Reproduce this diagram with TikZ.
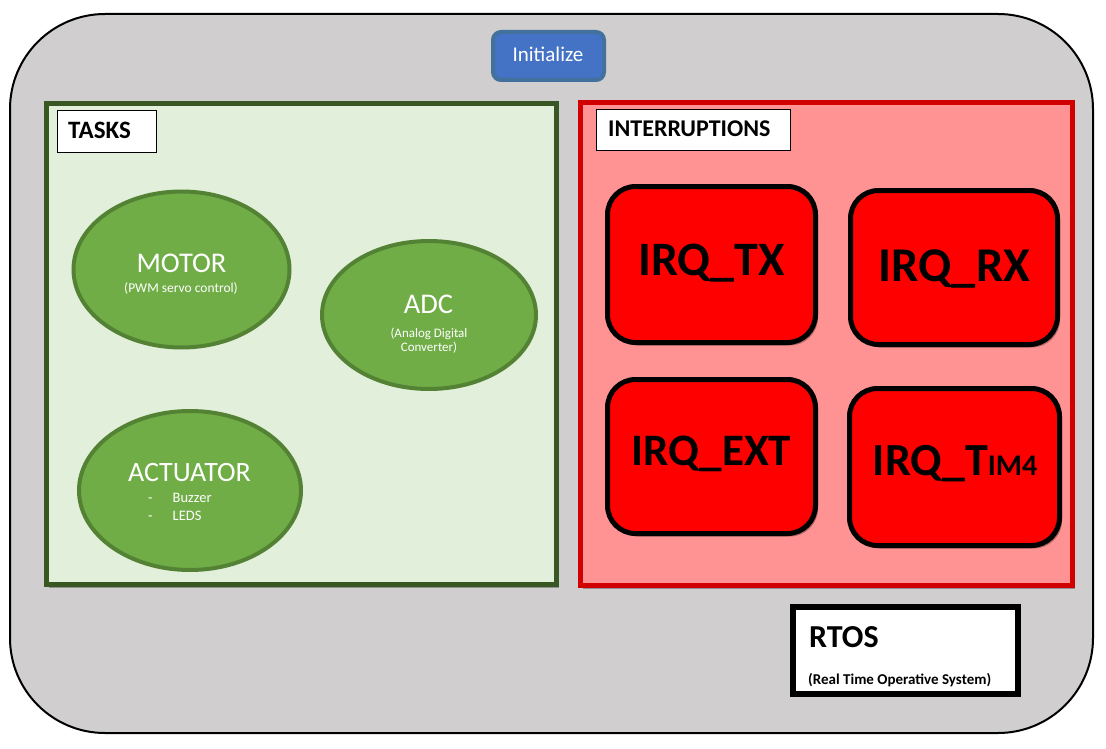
\documentclass[tikz,border=0pt]{standalone}
\usepackage{fontspec}
\setmainfont{Carlito}
\usetikzlibrary{shapes.geometric,shadows}

\definecolor{osgray}{HTML}{D0CECE}
\definecolor{initfill}{HTML}{4472C4}
\definecolor{initline}{HTML}{41719C}
\definecolor{taskfill}{HTML}{E2EFDA}
\definecolor{taskline}{HTML}{385723}
\definecolor{ellfill}{HTML}{70AD47}
\definecolor{ellline}{HTML}{548235}
\definecolor{irqpanel}{HTML}{FF9393}
\definecolor{irqline}{HTML}{D00000}
\definecolor{irqfill}{HTML}{FF0000}

\newcommand{\fsz}[1]{\fontsize{#1}{#1}\selectfont}

\tikzset{
  softshadow/.style={drop shadow={shadow xshift=2.5pt, shadow yshift=-3pt, opacity=0.3, fill=black}},
  panel/.style={rectangle, line width=5pt, inner sep=0pt, softshadow},
  labelbox/.style={rectangle, draw=black, line width=1pt, fill=white, inner sep=0pt},
  task/.style={ellipse, draw=ellline, fill=ellfill, line width=4pt, inner sep=0pt},
  irq/.style={rectangle, rounded corners=28pt, draw=black, fill=irqfill, line width=5pt, inner sep=0pt, softshadow},
  wtext/.style={text=white, inner sep=0pt, anchor=base},
  btext/.style={text=black, inner sep=0pt, font=\bfseries},
}

\begin{document}
\begin{tikzpicture}[x=1pt,y=-1pt]
\useasboundingbox (0,0) rectangle (1106,749);
\fill[white] (0,0) rectangle (1106,749);

% RTOS container
\node[rectangle, rounded corners=95pt, draw=black, line width=2pt, fill=osgray,
      minimum width=1083pt, minimum height=719pt, inner sep=0pt] (os) at (551.5,373.5) {};

% Initialize button
\node[rectangle, rounded corners=8pt, draw=initline, fill=initfill, line width=4pt,
      minimum width=111pt, minimum height=48pt, inner sep=0pt] (init) at (548.5,56) {};
\node[wtext] (initT) at (548,62) {\fsz{21}Initialize};

% Tasks panel
\node[panel, draw=taskline, fill=taskfill, minimum width=510pt, minimum height=481pt] (tasks) at (301.5,344) {};
\node[labelbox, minimum width=99pt, minimum height=42pt] (tasksL) at (106.5,132) {};
\node[btext, anchor=base west] (tasksT) at (68,138.5) {\fsz{25}TASKS};

\node[task, minimum width=216pt, minimum height=156pt] (motor) at (181.5,269.5) {};
\node[wtext] (motorT) at (181.5,272) {\fsz{28.5}MOTOR};
\node[wtext] (motorS) at (181,292) {\fsz{13.5}(PWM servo control)};

\node[task, minimum width=214pt, minimum height=148pt] (adc) at (429,315) {};
\node[wtext] (adcT) at (428.5,313.5) {\fsz{28.5}ADC};
\node[wtext] (adcS1) at (429,337) {\fsz{13}(Analog Digital};
\node[wtext] (adcS2) at (429,351.5) {\fsz{13}Converter)};

\node[task, minimum width=222pt, minimum height=159pt] (act) at (190,490.5) {};
\node[wtext] (actT) at (189.5,481) {\fsz{28}ACTUATOR};
\node[wtext, anchor=base west] (actD1) at (148,502) {\fsz{14.5}-};
\node[wtext, anchor=base west] (actB) at (172.5,502) {\fsz{14.5}Buzzer};
\node[wtext, anchor=base west] (actD2) at (148,520.5) {\fsz{14.5}-};
\node[wtext, anchor=base west] (actL) at (172.5,520.5) {\fsz{14.5}LEDS};

% Interruptions panel
\node[panel, draw=irqline, fill=irqpanel, minimum width=492pt, minimum height=483pt] (ints) at (826.5,344) {};
\node[labelbox, minimum width=194pt, minimum height=41pt] (intsL) at (693,130.5) {};
\node[btext, anchor=base west] (intsT) at (608,136.5) {\fsz{24}INTERRUPTIONS};

\node[irq, minimum width=208pt, minimum height=156pt] (tx) at (711.5,264.5) {};
\node[btext, anchor=base] (txT) at (711.5,275) {\fsz{48}IRQ\_TX};
\node[irq, minimum width=207pt, minimum height=154pt] (rx) at (954,267.5) {};
\node[btext, anchor=base] (rxT) at (954.5,281) {\fsz{48.5}IRQ\_RX};
\node[irq, minimum width=208pt, minimum height=154pt] (ext) at (711.5,456.5) {};
\node[btext, anchor=base] (extT) at (711.5,465) {\fsz{45}IRQ\_EXT};
\node[irq, minimum width=210pt, minimum height=157pt] (tim) at (954.5,467) {};
\node[btext, anchor=base] (timT) at (955,475) {\fsz{46}IRQ\_T{\fsz{30}IM4}};

% RTOS caption box
\node[rectangle, draw=black, fill=white, line width=6pt, inner sep=0pt, softshadow,
      minimum width=225pt, minimum height=87pt] (rtos) at (905.5,650.5) {};
\node[btext, anchor=base west] (rtosT) at (809,647) {\fsz{32}RTOS};
\node[btext, anchor=base west] (rtosS) at (808,684.5) {\fsz{15}(Real Time Operative System)};
\end{tikzpicture}
\end{document}
